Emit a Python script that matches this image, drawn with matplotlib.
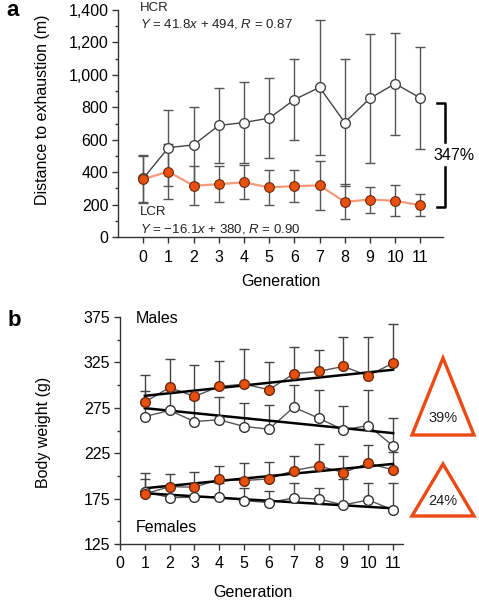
import matplotlib
matplotlib.use("Agg")
import matplotlib.pyplot as plt
import numpy as np
from matplotlib.patches import Polygon
from matplotlib.ticker import FuncFormatter, MultipleLocator

plt.rcParams["font.family"] = ["Liberation Sans", "DejaVu Sans"]
plt.rcParams["mathtext.fontset"] = "custom"
plt.rcParams["mathtext.it"] = "Liberation Sans:italic"
plt.rcParams["mathtext.rm"] = "Liberation Sans"

# ---- panel a: distance to exhaustion ----
gen_a = [0, 1, 2, 3, 4, 5, 6, 7, 8, 9, 10, 11]
hcr_mean = [361, 551, 568, 688, 706, 733, 847, 923, 706, 855, 946, 857]
hcr_sd = [144, 234, 233, 231, 248, 248, 251, 415, 392, 398, 314, 314]
lcr_mean = [357, 403, 316, 326, 337, 306, 314, 318, 217, 231, 223, 196]
lcr_sd = [145, 168, 120, 111, 104, 108, 99, 153, 108, 80, 95, 68]

# ---- panel b: body weight (upper error caps only) ----
gen_b = [1, 2, 3, 4, 5, 6, 7, 8, 9, 10, 11]
male_lcr = [281.3, 297.4, 287.5, 298.5, 301.1, 294.9, 312.5, 315.1, 320.6, 310.3, 324.3]
male_lcr_cap = [310.7, 328.7, 321.7, 326.5, 339.7, 325.7, 341.5, 339.0, 352.6, 352.6, 367.6]
male_hcr = [265.4, 272.1, 259.9, 261.8, 254.4, 251.5, 275.7, 263.6, 250.7, 255.5, 233.1]
male_hcr_cap = [293.0, 295.0, 285.0, 286.8, 280.1, 277.9, 300.0, 294.9, 277.2, 294.9, 263.6]
fem_lcr = [180.1, 188.2, 187.5, 196.3, 194.9, 196.7, 205.9, 211.0, 203.7, 214.0, 206.6]
fem_lcr_cap = [202.9, 201.8, 204.4, 211.4, 214.0, 215.1, 222.1, 235.3, 222.1, 234.2, 226.0]
fem_hcr = [182.7, 176.1, 176.5, 177.2, 172.8, 170.6, 175.7, 174.6, 168.0, 173.5, 162.5]
fem_hcr_cap = [196.7, 190.0, 190.0, 192.0, 186.4, 183.8, 192.6, 187.1, 197.0, 191.9, 191.9]

# fitted trend lines read at generation 1 and 11
trend_x = [1, 11]
male_lcr_trend = [288.2, 316.9]
male_hcr_trend = [274.6, 247.1]
fem_lcr_trend = [186.4, 213.2]
fem_hcr_trend = [180.9, 164.3]

ORANGE = "#e8500f"
ORANGE_EDGE = "#6a2a10"
SALMON = "#f29a7a"
GRAY = "#555555"
DARK = "#333333"
FS = 11.5


def style_axes(ax):
    for s in ["top", "right"]:
        ax.spines[s].set_visible(False)
    for s in ["left", "bottom"]:
        ax.spines[s].set_color(DARK)
        ax.spines[s].set_linewidth(1.0)
    ax.tick_params(which="major", length=4, width=1, color=DARK, labelsize=FS)
    ax.tick_params(which="minor", length=2.5, width=1, color=DARK)
    ax.tick_params(axis="x", pad=5)
    ax.tick_params(axis="y", pad=3)


fig = plt.figure(figsize=(4.79, 6.0), dpi=100)

# ================= panel a =================
ax1 = fig.add_axes([118 / 479, 1 - 237 / 600, 325 / 479, 227 / 600])
style_axes(ax1)
ax1.errorbar(gen_a, hcr_mean, yerr=hcr_sd, fmt="none", ecolor=GRAY,
             elinewidth=1, capsize=3.5, capthick=1, zorder=1)
ax1.errorbar(gen_a, lcr_mean, yerr=lcr_sd, fmt="none", ecolor=GRAY,
             elinewidth=1, capsize=3.5, capthick=1, zorder=1)
ax1.plot(gen_a, hcr_mean, color="#444444", lw=1, marker="o", ms=7,
         mfc="white", mec="#444444", mew=1, zorder=3)
ax1.plot(gen_a, lcr_mean, color=SALMON, lw=1.6, marker="o", ms=7,
         mfc=ORANGE, mec=ORANGE_EDGE, mew=0.8, zorder=4)

ax1.set_xlim(-1, 11.9)
ax1.set_ylim(0, 1400)
ax1.set_xticks(gen_a)
ax1.yaxis.set_major_locator(MultipleLocator(200))
ax1.yaxis.set_minor_locator(MultipleLocator(100))
ax1.yaxis.set_major_formatter(FuncFormatter(lambda v, p: f"{int(v):,}"))
ax1.set_ylabel("Distance to exhaustion (m)", fontsize=FS)
ax1.yaxis.set_label_coords(-0.21, 0.56)
ax1.set_xlabel("Generation", fontsize=FS)
ax1.xaxis.set_label_coords(0.5, -0.165)

ax1.text(-0.12, 1413, "HCR", fontsize=9.5, va="center", ha="left", color="#222222")
ax1.text(-0.12, 1313, "$Y$ = 41.8$x$ + 494, $R$ = 0.87", fontsize=9.5,
         va="center", ha="left", color="#222222")
ax1.text(-0.12, 155, "LCR", fontsize=9.5, va="center", ha="left", color="#222222")
ax1.text(-0.12, 52, "$Y$ = \u221216.1$x$ + 380, $R$ = 0.90", fontsize=9.5,
         va="center", ha="left", color="#222222")

# bracket with percentage
bx, bl = 11.98, 11.67
ax1.plot([bl, bx, bx], [825, 825, 585], color="black", lw=1.8, clip_on=False)
ax1.plot([bl, bx, bx], [186, 186, 430], color="black", lw=1.8, clip_on=False)
ax1.text(12.35, 500, "347%", fontsize=FS, ha="center", va="center")

fig.text(6 / 479, 1 - 10 / 600, "a", fontsize=16, fontweight="bold",
         ha="left", va="center")

# ================= panel b =================
ax2 = fig.add_axes([120 / 479, 1 - 544 / 600, 283 / 479, 227 / 600])
style_axes(ax2)


def weight_series(ax, y, cap, face, edge):
    y = np.array(y)
    up = np.array(cap) - y
    ax.errorbar(gen_b, y, yerr=[np.zeros_like(up), up], fmt="none",
                ecolor="#444444", elinewidth=1, capsize=3.5, capthick=1, zorder=1)
    ax.plot(gen_b, y, color="#555555", lw=1, zorder=2)
    ax.plot(gen_b, y, ls="none", marker="o", ms=7, mfc=face, mec=edge,
            mew=1, zorder=4)


weight_series(ax2, male_hcr, male_hcr_cap, "white", DARK)
weight_series(ax2, fem_hcr, fem_hcr_cap, "white", DARK)
weight_series(ax2, male_lcr, male_lcr_cap, ORANGE, ORANGE_EDGE)
weight_series(ax2, fem_lcr, fem_lcr_cap, ORANGE, ORANGE_EDGE)
for tr in [male_lcr_trend, male_hcr_trend, fem_lcr_trend, fem_hcr_trend]:
    ax2.plot(trend_x, tr, color="black", lw=1.8, zorder=3)

ax2.set_xlim(0, 11.4)
ax2.set_ylim(125, 375)
ax2.set_xticks(range(0, 12))
ax2.set_yticks([125, 175, 225, 275, 325, 375])
ax2.set_yticks([150, 200, 250, 300, 350], minor=True)
ax2.set_ylabel("Body weight (g)", fontsize=FS)
ax2.yaxis.set_label_coords(-0.244, 0.49)
ax2.set_xlabel("Generation", fontsize=FS)
ax2.xaxis.set_label_coords(0.47, -0.18)

ax2.text(0.64, 373, "Males", fontsize=FS, va="center", ha="left")
ax2.text(0.64, 143.5, "Females", fontsize=FS, va="center", ha="left")

fig.text(8 / 479, 1 - 320 / 600, "b", fontsize=16, fontweight="bold",
         ha="left", va="center")

# percentage triangles on the right
tri_specs = [((443, 358), (412, 435), (474, 435), "39%", 418),
             ((443, 464), (412, 516), (474, 516), "24%", 501)]
for apex, bl_pt, br_pt, label, ty in tri_specs:
    pts = [(p[0] / 479, 1 - p[1] / 600) for p in (apex, br_pt, bl_pt)]
    fig.add_artist(Polygon(pts, closed=True, fill=False, edgecolor="#ec4a14",
                           lw=2.4, joinstyle="miter", transform=fig.transFigure))
    fig.text(443 / 479, 1 - ty / 600, label, fontsize=10.5, ha="center",
             va="center", color="#222222")

fig.savefig("out.png", dpi=100)
